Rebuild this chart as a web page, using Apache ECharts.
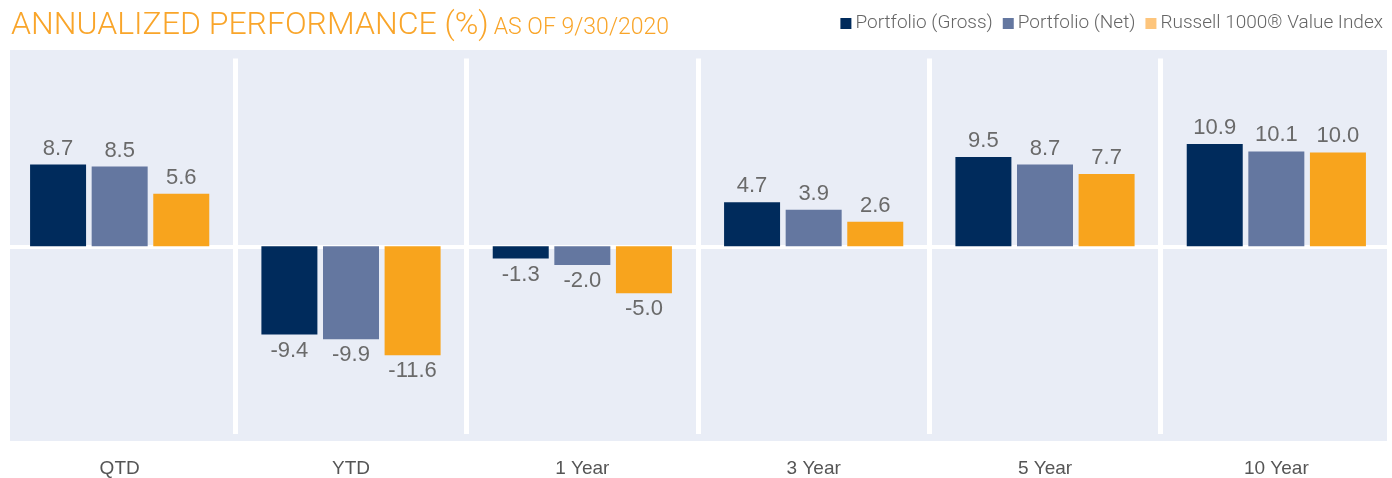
<!DOCTYPE html>
<html>
<head>
<meta charset="utf-8">
<title>Annualized Performance</title>
<script src="https://cdn.jsdelivr.net/npm/echarts@6/dist/echarts.min.js"></script>
<style>
  html, body { margin: 0; padding: 0; background: #fff; }
  #chart { width: 1392px; height: 478px; }
</style>
</head>
<body>
<div id="chart"></div>
<script>
// data
const categories = ['QTD', 'YTD', '1 Year', '3 Year', '5 Year', '10 Year'];
const grossValues = [8.7, -9.4, -1.3, 4.7, 9.5, 10.9];
const netValues = [8.5, -9.9, -2.0, 3.9, 8.7, 10.1];
const indexValues = [5.6, -11.6, -5.0, 2.6, 7.7, 10.0];
const seriesNames = ['Portfolio (Gross)', 'Portfolio (Net)', 'Russell 1000® Value Index'];

const colors = ['#002b5c', '#6477a0', '#f8a41d'];
const legendColors = ['#002b5c', '#6477a0', '#fdc57c'];

// positive labels above the bar, negative ones below
function withLabels(values) {
  return values.map(function (v) {
    return { value: v, label: { position: v < 0 ? 'bottom' : 'top' } };
  });
}

function makeSeries(name, values, color) {
  return {
    name: name,
    type: 'bar',
    barWidth: 56,
    barGap: '10%',
    itemStyle: { color: color },
    label: {
      show: true,
      distance: 5,
      color: '#6a6a6a',
      fontFamily: 'Liberation Sans',
      fontSize: 22,
      formatter: function (p) { return p.value.toFixed(1); }
    },
    data: withLabels(values)
  };
}

const chart = echarts.init(document.getElementById('chart'));
chart.setOption({
  animation: false,
  title: {
    left: 6,
    top: 1,
    text: '{a|ANNUALIZED PERFORMANCE (%)} {b|AS OF 9/30/2020}',
    textStyle: {
      rich: {
        a: { color: '#f9a52a', fontFamily: 'Roboto', fontWeight: 300, fontSize: 32, lineHeight: 36, verticalAlign: 'bottom' },
        b: { color: '#f9a52a', fontFamily: 'Roboto', fontWeight: 300, fontSize: 23, lineHeight: 28, verticalAlign: 'bottom', padding: [0, 0, 2, 0] }
      }
    }
  },
  legend: {
    right: 4,
    top: 9,
    icon: 'rect',
    itemWidth: 11,
    itemHeight: 11,
    itemGap: 10,
    textStyle: { color: '#666', fontFamily: 'Roboto', fontWeight: 300, fontSize: 19, padding: [0, 0, 0, -1] },
    data: seriesNames.map(function (n, i) {
      return { name: n, itemStyle: { color: legendColors[i] } };
    })
  },
  graphic: [{
    type: 'rect',
    z: -100,
    shape: { x: 10, y: 50, width: 1377, height: 391 },
    style: { fill: '#e9edf6' },
    silent: true
  }],
  grid: { left: 4, right: 0, top: 58.5, bottom: 43.5 },
  xAxis: {
    type: 'category',
    data: categories,
    axisLine: { show: false },
    axisTick: { show: false },
    axisLabel: { color: '#555', fontFamily: 'Liberation Sans', fontSize: 19, margin: 25 },
    splitLine: { show: true, interval: 0, lineStyle: { color: '#fff', width: 5 } }
  },
  yAxis: {
    type: 'value',
    min: -20,
    max: 20,
    interval: 20,
    axisLabel: { show: false },
    axisLine: { show: false },
    axisTick: { show: false },
    splitLine: { show: true, lineStyle: { color: ['rgba(0,0,0,0)', '#ffffff'], width: 4 } }
  },
  series: [
    makeSeries(seriesNames[0], grossValues, colors[0]),
    makeSeries(seriesNames[1], netValues, colors[1]),
    makeSeries(seriesNames[2], indexValues, colors[2])
  ]
});
window.onresize = function () { chart.resize(); };
</script>
</body>
</html>
